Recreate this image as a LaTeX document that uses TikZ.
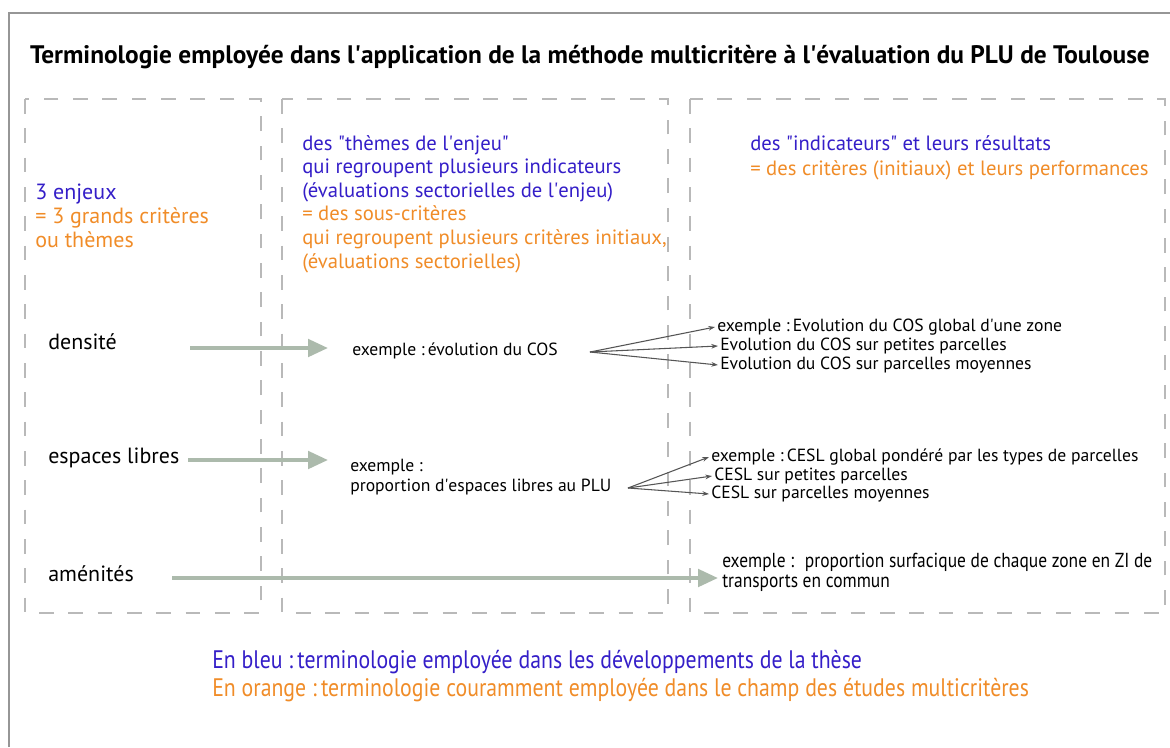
\documentclass[tikz,border=0pt]{standalone}
\usepackage{fontspec}
\setmainfont{PT Sans}
\newfontfamily\narrowfont[FakeStretch=0.86]{PT Sans}
\usetikzlibrary{arrows.meta, positioning}
\definecolor{thesisblue}{RGB}{52,30,200}
\definecolor{mcorange}{RGB}{240,140,40}
\definecolor{framegray}{RGB}{150,150,150}
\definecolor{dashgray}{RGB}{185,185,185}
\definecolor{arrowsage}{RGB}{172,186,172}
\definecolor{fangray}{RGB}{85,85,85}
\newcommand{\dq}{\textquotedbl}
\newcommand{\sq}{\textquotesingle}

\begin{document}
\begin{tikzpicture}[x=0.75pt, y=-0.75pt,
  colbox/.style={draw=dashgray, line width=1.4pt, dash pattern=on 11pt off 11pt},
  txt/.style={anchor=west, inner sep=0pt, align=left},
  big/.style={txt, font=\fontsize{16.5}{18}\selectfont},
  mid/.style={txt, font=\fontsize{15.5}{17.7}\selectfont},
  rgt/.style={txt, font=\fontsize{15.5}{18.75}\selectfont},
  small/.style={txt, font=\fontsize{13.2}{15}\selectfont},
  flow/.style={draw=arrowsage, line width=3pt, -{Triangle[length=15pt, width=13pt]}},
  fan/.style={draw=fangray, line width=0.8pt, -{Stealth[length=5pt, width=3.5pt]}}
]
\useasboundingbox (0,0) rectangle (1170,747);
% frame
\draw[framegray, line width=1.2pt] (9,747) -- (9,13) -- (1170,13);

% title
\node[inner sep=0pt, font=\fontsize{19}{22}\selectfont\bfseries] (title) at (590,57)
  {Terminologie employée dans l\sq application de la méthode multicritère à l\sq évaluation du PLU de Toulouse};

% the three columns
\draw[colbox] (25,99) rectangle (261,613);
\draw[colbox] (282,99) rectangle (668,613);
\draw[colbox] (690,99) rectangle (1165,613);

% column headers
\node[big] (enjeux) at (35,216) {\color{thesisblue}3 enjeux\\\color{mcorange}= 3 grands critères\\\color{mcorange}ou thèmes};
\node[mid] (themes) at (302,204) {\color{thesisblue}des \dq thèmes de l\sq enjeu\dq\\
  \color{thesisblue}qui regroupent plusieurs indicateurs\\
  \color{thesisblue}(évaluations sectorielles de l\sq enjeu)\\
  \color{mcorange}= des sous-critères\\
  \color{mcorange}qui regroupent plusieurs critères initiaux,\\
  \color{mcorange}(évaluations sectorielles)};
\node[rgt] (indic) at (750,158) {\color{thesisblue}des \dq indicateurs\dq{} et leurs résultats\\
  \color{mcorange}= des critères (initiaux) et leurs performances};

% densite
\node[big] (dens) at (48,342) {densité};
\node[small] (cos) at (352,351) {exemple :\,évolution du COS};
\coordinate (densto) at (328,348);
\coordinate (cosfan) at (590,352);
\node[small] (cos1) at (717,327) {exemple :\,Evolution du COS global d\sq une zone};
\node[small] (cos2) at (720,346) {Evolution du COS sur petites parcelles};
\node[small] (cos3) at (720,365) {Evolution du COS sur parcelles moyennes};
\draw[flow] (dens.east -| 190,0) ++(0,6) -- (densto);
\foreach \c in {cos1, cos2, cos3}
  \draw[fan] (cosfan) -- ([xshift=-1.5pt]\c.west);

% espaces libres
\node[big] (libres) at (48,458) {espaces libres};
\node[small] (plu) at (350,477.5) {exemple :\\proportion d\sq espaces libres au PLU};
\coordinate (librto) at (328,460);
\coordinate (plufan) at (628,488);
\node[small] (cesl1) at (711,457) {exemple :\,CESL global pondéré par les types de parcelles};
\node[small] (cesl2) at (714,476) {CESL sur petites parcelles};
\node[small] (cesl3) at (711,494) {CESL sur parcelles moyennes};
\draw[flow] (libres.east -| 188,0) ++(0,2) -- (librto);
\foreach \c in {cesl1, cesl2, cesl3}
  \draw[fan] (plufan) -- ([xshift=-1.5pt]\c.west);

% amenites
\node[big] (amen) at (48,574) {aménités};
\node[txt, font=\narrowfont\fontsize{15.2}{14.5}\selectfont] (zi) at (722,572.5)
  {exemple : \ proportion surfacique de chaque zone en ZI de\\transports en commun};
\coordinate (amento) at (718,578);
\draw[flow] (amen.east -| 172,0) ++(0,4) -- (amento);

% legend
\node[txt, font=\narrowfont\fontsize{19}{20}\selectfont, text=thesisblue] (legbleu) at (212,662)
  {En bleu :\,terminologie employée dans les développements de la thèse};
\node[txt, font=\narrowfont\fontsize{19}{20}\selectfont, text=mcorange] (legorange) at (212,690)
  {En orange :\,terminologie couramment employée dans le champ des études multicritères};
\end{tikzpicture}
\end{document}
